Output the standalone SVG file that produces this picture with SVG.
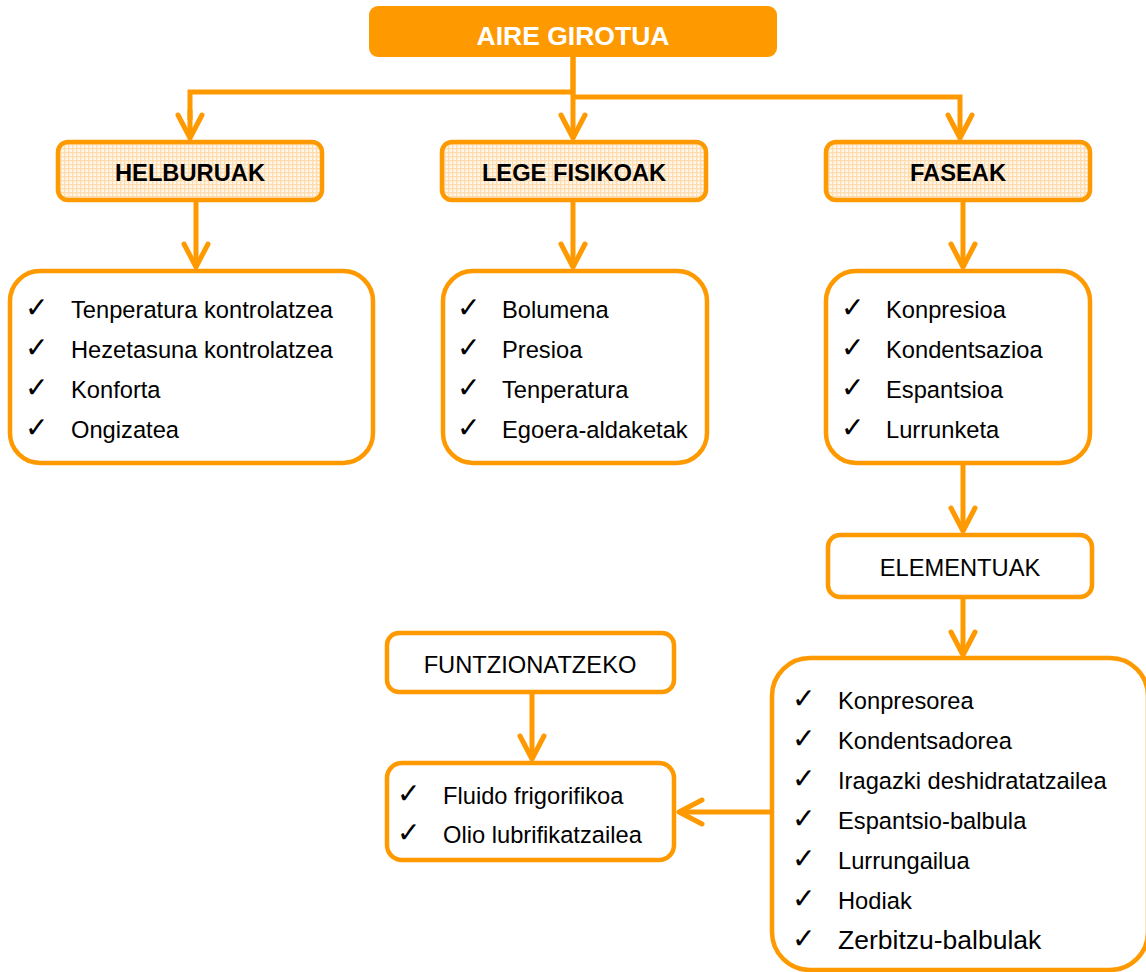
<svg xmlns="http://www.w3.org/2000/svg" width="1146" height="972" viewBox="0 0 1146 972">
<style>
.box{fill:#fff;stroke:#FF9900;stroke-width:4.5}
.hdr{fill:url(#grid);stroke:#FF9900;stroke-width:4.5}
.t{font-family:"Liberation Sans",Arial,sans-serif;font-size:23.7px;fill:#000}
.b{font-weight:bold}
.ck{font-family:"DejaVu Sans",sans-serif;font-size:28px;font-weight:200;fill:#000}
.con{fill:none;stroke:#FF9900;stroke-width:5;marker-end:url(#ah)}
.ln{fill:none;stroke:#FF9900;stroke-width:5}
</style>
<defs>
<pattern id="grid" width="4" height="4" patternUnits="userSpaceOnUse">
<rect width="4" height="4" fill="#FFF7EC"/>
<rect width="1.3" height="4" fill="#FFDCAD"/>
<rect width="4" height="1.3" fill="#FFDCAD"/>
</pattern>
<marker id="ah" markerUnits="userSpaceOnUse" viewBox="-30 -16 34 32" markerWidth="34" markerHeight="32" refX="0" refY="0" orient="auto" overflow="visible">
<path d="M-23,-12 L0,0 L-23,12" fill="none" stroke="#FF9900" stroke-width="5" stroke-linecap="round" stroke-linejoin="round"/>
</marker>
</defs>

<g id="connectors">
<path class="ln" d="M573,57 V92 H190 V120"/>
<path class="con" d="M190,110 V138"/>
<path class="con" d="M573,57 V138"/>
<path class="con" d="M573,97 H960 V138"/>
<path class="con" d="M196,201 V267"/>
<path class="con" d="M573,201 V267"/>
<path class="con" d="M963,201 V267"/>
<path class="con" d="M963,464 V531"/>
<path class="con" d="M963,598 V655"/>
<path class="con" d="M532,692 V759"/>
<path class="con" d="M772,812 H679"/>
</g>

<g id="aire-girotua">
<rect x="369" y="6" width="408" height="51" rx="9" fill="#FF9900"/>
<text class="t b" x="573" y="45" text-anchor="middle" style="font-size:26.5px;fill:#fff">AIRE GIROTUA</text>
</g>

<g id="helburuak">
<rect class="hdr" x="58" y="142" width="264" height="58" rx="10"/>
<text class="t b" x="190" y="181" text-anchor="middle">HELBURUAK</text>
</g>
<g id="lege-fisikoak">
<rect class="hdr" x="442" y="142" width="264" height="58" rx="10"/>
<text class="t b" x="574" y="181" text-anchor="middle">LEGE FISIKOAK</text>
</g>
<g id="faseak">
<rect class="hdr" x="826" y="142" width="264" height="58" rx="10"/>
<text class="t b" x="958" y="181" text-anchor="middle">FASEAK</text>
</g>

<g id="helburuak-list">
<rect class="box" x="10" y="271" width="363" height="192" rx="30"/>
<text class="ck" x="25" y="317">✓</text><text class="t" x="71" y="318">Tenperatura kontrolatzea</text>
<text class="ck" x="25" y="357">✓</text><text class="t" x="71" y="358">Hezetasuna kontrolatzea</text>
<text class="ck" x="25" y="397">✓</text><text class="t" x="71" y="398">Konforta</text>
<text class="ck" x="25" y="437">✓</text><text class="t" x="71" y="438">Ongizatea</text>
</g>

<g id="lege-list">
<rect class="box" x="443" y="271" width="264" height="192" rx="30"/>
<text class="ck" x="457" y="317">✓</text><text class="t" x="502" y="318">Bolumena</text>
<text class="ck" x="457" y="357">✓</text><text class="t" x="502" y="358">Presioa</text>
<text class="ck" x="457" y="397">✓</text><text class="t" x="502" y="398">Tenperatura</text>
<text class="ck" x="457" y="437">✓</text><text class="t" x="502" y="438">Egoera-aldaketak</text>
</g>

<g id="faseak-list">
<rect class="box" x="826" y="271" width="264" height="192" rx="30"/>
<text class="ck" x="841" y="317">✓</text><text class="t" x="886" y="318">Konpresioa</text>
<text class="ck" x="841" y="357">✓</text><text class="t" x="886" y="358">Kondentsazioa</text>
<text class="ck" x="841" y="397">✓</text><text class="t" x="886" y="398">Espantsioa</text>
<text class="ck" x="841" y="437">✓</text><text class="t" x="886" y="438">Lurrunketa</text>
</g>

<g id="elementuak">
<rect class="box" x="828" y="535" width="264" height="62" rx="12"/>
<text class="t" x="960" y="576" text-anchor="middle">ELEMENTUAK</text>
</g>

<g id="elementuak-list">
<rect class="box" x="772" y="658" width="376" height="312" rx="38"/>
<text class="ck" x="792" y="708">✓</text><text class="t" x="838" y="709">Konpresorea</text>
<text class="ck" x="792" y="748">✓</text><text class="t" x="838" y="749">Kondentsadorea</text>
<text class="ck" x="792" y="788">✓</text><text class="t" x="838" y="789">Iragazki deshidratatzailea</text>
<text class="ck" x="792" y="828">✓</text><text class="t" x="838" y="829">Espantsio-balbula</text>
<text class="ck" x="792" y="868">✓</text><text class="t" x="838" y="869">Lurrungailua</text>
<text class="ck" x="792" y="908">✓</text><text class="t" x="838" y="909">Hodiak</text>
<text class="ck" x="792" y="948">✓</text><text class="t" x="838" y="949" style="font-size:26.5px">Zerbitzu-balbulak</text>
</g>

<g id="funtzionatzeko">
<rect class="box" x="387" y="633" width="287" height="59" rx="12"/>
<text class="t" x="530" y="673" text-anchor="middle">FUNTZIONATZEKO</text>
</g>

<g id="funtzionatzeko-list">
<rect class="box" x="387" y="763" width="287" height="97" rx="15"/>
<text class="ck" x="397" y="803">✓</text><text class="t" x="443" y="804">Fluido frigorifikoa</text>
<text class="ck" x="397" y="842">✓</text><text class="t" x="443" y="843">Olio lubrifikatzailea</text>
</g>
</svg>
